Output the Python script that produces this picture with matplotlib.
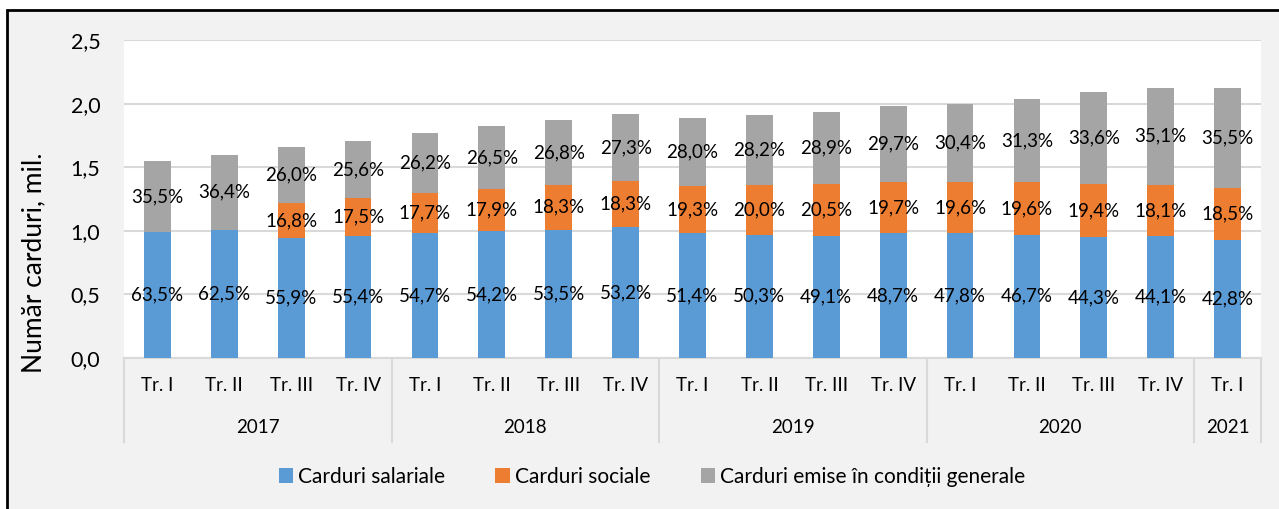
import numpy as np
import matplotlib.pyplot as plt
from matplotlib.patches import Rectangle, Patch

plt.rcParams['font.family'] = ['Lato', 'DejaVu Sans']

quarters = ["Tr. I", "Tr. II", "Tr. III", "Tr. IV"] * 4 + ["Tr. I"]
years = ["2017", "2018", "2019", "2020", "2021"]
year_len = [4, 4, 4, 4, 1]

# milioane carduri
salariale = [0.99, 1.01, 0.94, 0.96, 0.98, 1.00, 1.01, 1.03, 0.98, 0.97, 0.96, 0.98, 0.98, 0.97, 0.95, 0.96, 0.93]
sociale = [0.0, 0.0, 0.28, 0.30, 0.32, 0.33, 0.35, 0.36, 0.375, 0.39, 0.41, 0.40, 0.40, 0.41, 0.42, 0.40, 0.41]
generale = [0.56, 0.585, 0.44, 0.445, 0.47, 0.49, 0.51, 0.53, 0.535, 0.55, 0.565, 0.60, 0.62, 0.655, 0.725, 0.765, 0.78]

lbl_sal = ["63,5%", "62,5%", "55,9%", "55,4%", "54,7%", "54,2%", "53,5%", "53,2%", "51,4%",
           "50,3%", "49,1%", "48,7%", "47,8%", "46,7%", "44,3%", "44,1%", "42,8%"]
lbl_soc = ["", "", "16,8%", "17,5%", "17,7%", "17,9%", "18,3%", "18,3%", "19,3%",
           "20,0%", "20,5%", "19,7%", "19,6%", "19,6%", "19,4%", "18,1%", "18,5%"]
lbl_gen = ["35,5%", "36,4%", "26,0%", "25,6%", "26,2%", "26,5%", "26,8%", "27,3%", "28,0%",
           "28,2%", "28,9%", "29,7%", "30,4%", "31,3%", "33,6%", "35,1%", "35,5%"]

series = ["Carduri salariale", "Carduri sociale", "Carduri emise în condiții generale"]
colors = ["#5B9BD5", "#ED7D31", "#A5A5A5"]

W, H = 1279, 509
fig = plt.figure(figsize=(W / 100, H / 100), dpi=100, facecolor="white")
# fundal gri cu chenar negru sus si stanga
fig.patches.append(Rectangle((7 / W, -0.2), 1.3, 1 - 10 / H + 0.2, transform=fig.transFigure,
                             facecolor="#F2F2F2", edgecolor="black", linewidth=2, zorder=-10))

ax = fig.add_axes([124 / W, 1 - 358 / H, (1261 - 124) / W, (358 - 40) / H])
ax.set_facecolor("white")

x = np.arange(len(quarters))
sal = np.array(salariale)
soc = np.array(sociale)
gen = np.array(generale)
bw = 0.4
ax.bar(x, sal, bw, color=colors[0], zorder=3)
ax.bar(x, soc, bw, bottom=sal, color=colors[1], zorder=3)
ax.bar(x, gen, bw, bottom=sal + soc, color=colors[2], zorder=3)

fs = 13.5
for i in range(len(x)):
    ax.text(x[i], sal[i] / 2, lbl_sal[i], ha="center", va="center", fontsize=fs, zorder=4)
    if lbl_soc[i]:
        ax.text(x[i], sal[i] + soc[i] / 2, lbl_soc[i], ha="center", va="center", fontsize=fs, zorder=4)
    ax.text(x[i], sal[i] + soc[i] + gen[i] / 2, lbl_gen[i], ha="center", va="center", fontsize=fs, zorder=4)

ax.set_xlim(-0.5, len(x) - 0.5)
ax.set_ylim(0, 2.5)
ax.set_yticks(np.arange(0, 2.51, 0.5))
ax.set_yticklabels([("%.1f" % v).replace(".", ",") for v in np.arange(0, 2.51, 0.5)], fontsize=15.5)
ax.yaxis.grid(True, color="#D9D9D9", linewidth=1.5, zorder=0)
ax.tick_params(axis="y", length=0, pad=17)
ax.set_xticks([])
for s in ["left", "right", "top"]:
    ax.spines[s].set_visible(False)
ax.spines["bottom"].set_color("#D9D9D9")
ax.spines["bottom"].set_linewidth(1.5)

ax.set_ylabel("Număr carduri, mil.", fontsize=19)
ax.yaxis.set_label_coords(-0.0685, 0.5 - 0.2)

# axa de categorii pe doua niveluri
tr = ax.get_xaxis_transform()
for i, q in enumerate(quarters):
    ax.text(x[i], -0.085, q, transform=tr, ha="center", va="center", fontsize=fs)
pos = -0.5
ax.plot([pos, pos], [0, -0.265], transform=tr, color="#D9D9D9", linewidth=1.5, clip_on=False)
for yr, n in zip(years, year_len):
    ax.text(pos + n / 2, -0.217, yr, transform=tr, ha="center", va="center", fontsize=fs)
    pos += n
    ax.plot([pos, pos], [0, -0.265], transform=tr, color="#D9D9D9", linewidth=1.5, clip_on=False)

handles = [Patch(facecolor=c, edgecolor="none") for c in colors]
fig.legend(handles, series, loc="center", bbox_to_anchor=(652 / W, 1 - 477 / H), ncol=3,
           frameon=False, fontsize=15, handlelength=0.7, handleheight=0.7,
           handletextpad=0.25, columnspacing=2.4)

fig.savefig("out.png", dpi=100, facecolor=fig.get_facecolor())
